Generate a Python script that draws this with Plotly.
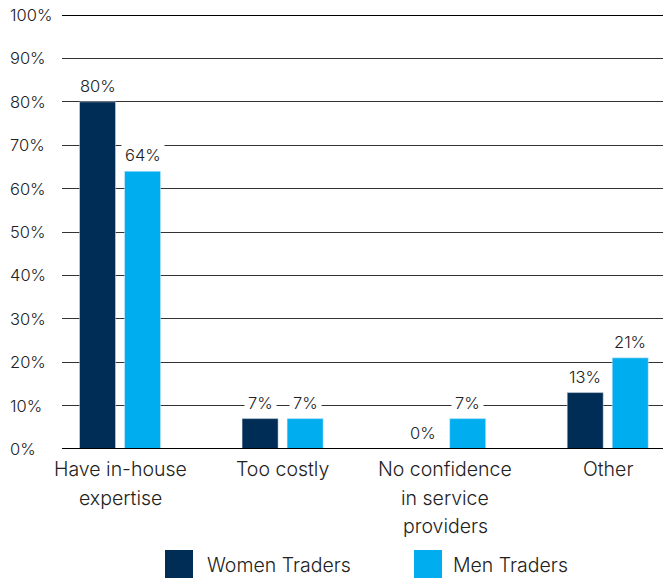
import plotly.graph_objects as go

categories = ["Have in-house<br>expertise", "Too costly", "No confidence<br>in service<br>providers", "Other"]
women = [80, 7, 0, 13]
men = [64, 7, 7, 21]
series_names = ["Women Traders", "Men Traders"]
tick_vals = [0, 10, 20, 30, 40, 50, 60, 70, 80, 90, 100]
tick_text = [f"{v}%" for v in tick_vals]

NAVY = "#002D55"
BLUE = "#00AEEF"
TXT = "#222222"
FONT = "Inter, Roboto, sans-serif"
WT = 300

L, R, T, B = 62, 0, 15, 132
W, H = 663, 581
pw, ph = W - L - R, H - T - B

def px2x(px):
    return (px - L) / pw

def py2y(py):
    return 1 - (py - T) / ph

xidx = list(range(len(categories)))
fig = go.Figure()
fig.add_trace(go.Bar(x=xidx, y=women, name=series_names[0], marker_color=NAVY, showlegend=False))
fig.add_trace(go.Bar(x=xidx, y=men, name=series_names[1], marker_color=BLUE, showlegend=False))

ann = []
slot = 45  # px between bar centers
for i in xidx:
    for vals, sh in ((women, -slot / 2), (men, slot / 2)):
        ann.append(dict(x=i, y=vals[i], xref="x", yref="y", text=f"{vals[i]}%",
                        showarrow=False, yanchor="bottom", xshift=sh, yshift=2,
                        bgcolor="white", borderpad=3,
                        font=dict(size=16.5, color=TXT, family=FONT, weight=WT)))

# category labels, one line per annotation for the wider line spacing
for i, cat in enumerate(categories):
    for k, line in enumerate(cat.split("<br>")):
        ann.append(dict(x=i, y=py2y(470 + k * 28.7), xref="x", yref="paper", text=line,
                        showarrow=False, xanchor="center", yanchor="middle", yshift=1,
                        font=dict(size=19.5, color=TXT, family=FONT, weight=WT)))

# left-aligned y tick labels
for v, t in zip(tick_vals, tick_text):
    ann.append(dict(x=(8 - L) / pw, y=v, xref="paper", yref="y", text=t, showarrow=False,
                    xanchor="left", yanchor="middle",
                    font=dict(size=16.5, color=TXT, family=FONT, weight=WT)))

shapes = []
leg = [(165, 205, NAVY, series_names[0]), (414, 451, BLUE, series_names[1])]
for x0, tx, col, name in leg:
    shapes.append(dict(type="rect", xref="paper", yref="paper", x0=px2x(x0), x1=px2x(x0 + 28),
                       y0=py2y(578), y1=py2y(550), fillcolor=col, line=dict(width=0)))
    ann.append(dict(x=px2x(tx), y=py2y(565), xref="paper", yref="paper", text=name, showarrow=False,
                    xanchor="left", yanchor="middle",
                    font=dict(size=19.5, color=TXT, family=FONT, weight=WT)))

shapes.append(dict(type="line", xref="paper", yref="y", x0=0, x1=1, y0=0, y1=0,
                   line=dict(color="black", width=2), layer="above"))
shapes.append(dict(type="line", xref="paper", yref="y", x0=0, x1=1, y0=100, y1=100,
                   line=dict(color="black", width=2), layer="below"))

fig.update_layout(
    width=W, height=H,
    margin=dict(l=L, r=R, t=T, b=B),
    paper_bgcolor="white", plot_bgcolor="white",
    barmode="group", bargap=0.446, bargroupgap=0.2,
    font=dict(family=FONT, color=TXT),
    annotations=ann, shapes=shapes,
    xaxis=dict(range=[-0.357, 3.34], tickvals=xidx, showticklabels=False, showgrid=False,
               zeroline=False, showline=False, ticks="", automargin=False, fixedrange=True),
    yaxis=dict(range=[0, 100], tickvals=tick_vals, showticklabels=False, showgrid=True,
               gridcolor="#333333", gridwidth=1, zeroline=False, showline=False, fixedrange=True,
               automargin=False),
)

fig.write_html("out.html", config={"displayModeBar": False},
               post_script="document.body.style.margin='0';document.body.style.overflow='hidden';")
